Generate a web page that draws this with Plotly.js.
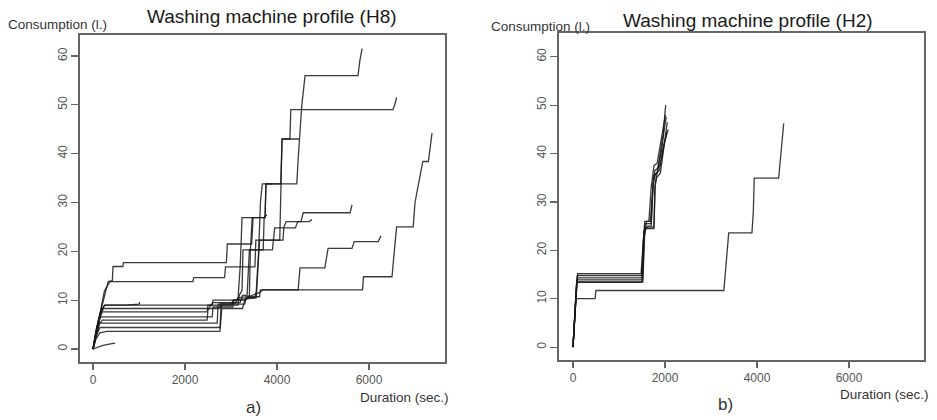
<!DOCTYPE html>
<html>
<head>
<meta charset="utf-8">
<script src="https://cdn.plot.ly/plotly-3.0.1.min.js"></script>
<style>html,body{margin:0;padding:0;background:#fff;}#chart{width:937px;height:420px;}</style>
</head>
<body>
<div id="chart"></div>
<script>
// ---- Data: [duration (sec.), consumption (l.)] per washing cycle ----
// House H8
const h8_cycle1 = [[0,0],[60,3],[120,6],[200,9],[280,12],[330,13.8],[420,14],[435,16.9],[650,16.9],[660,17.7],[2900,17.7],[2920,21.5],[3450,21.5],[3480,26.9],[3740,26.9],[3760,33.8],[4430,33.8],[4460,39],[4540,50],[4610,56],[5760,56],[5800,59],[5850,61.5]];
const h8_cycle2 = [[0,0],[80,4],[160,8],[250,12],[370,13.8],[2170,13.8],[2190,14.6],[2860,14.6],[2880,16.8],[3520,16.8],[3540,22.3],[4060,22.3],[4090,35],[4110,43],[4280,43],[4300,49],[6520,49],[6560,50],[6600,51.5]];
const h8_cycle3 = [[0,0],[60,2],[150,3.3],[300,3.6],[2760,3.6],[2780,6],[2800,8.3],[3250,8.3],[3300,10],[3400,11],[3420,20],[3460,26.9],[3740,26.9],[3760,33.8],[4080,33.8],[4110,43],[4480,43]];
const h8_cycle4 = [[0,0],[50,3],[120,6],[180,8],[260,9],[2590,9],[2610,10],[3300,10],[3400,10.7],[3620,10.7],[3640,12.1],[5860,12.1],[5880,14.8],[6500,14.8],[6540,19],[6600,25],[6960,25],[7000,30],[7100,35],[7170,38.4],[7290,38.4],[7320,41],[7370,44.2]];
const h8_cycle5 = [[0,0],[70,4],[150,7],[230,8.3],[2760,8.3],[2780,9.4],[3100,9.4],[3150,10.5],[3400,10.8],[3600,11.5],[3700,12.1],[4460,12.1],[4500,16.6],[5040,16.6],[5110,20.6],[5630,20.6],[5680,22],[6200,22],[6260,23.2]];
const h8_cycle6 = [[0,0],[60,3],[140,6],[200,7.6],[2480,7.6],[2500,9],[3000,9],[3050,10],[3550,10.5],[3580,16],[3620,22.3],[4130,22.3],[4150,25],[4200,26.1],[4520,26.1],[4570,27.9],[5590,27.9],[5630,29.5]];
const h8_cycle7 = [[0,0],[50,2],[130,5],[200,5.9],[2480,5.9],[2500,8],[2600,9.5],[3200,9.5],[3250,11],[3350,11],[3380,16],[3400,20.3],[3900,20.3],[3950,24.8],[4400,24.8],[4450,26.1],[4700,26.1],[4760,26.5]];
const h8_cycle8 = [[0,0],[100,0.4],[200,0.7],[350,1],[480,1.2]];
const h8_cycle9 = [[0,0],[80,4],[150,7],[250,9],[700,9],[1000,9.2],[1020,9.6]];
const h8_cycle10 = [[0,0],[60,2.5],[150,4.4],[2760,4.4],[2780,8],[2800,9],[3150,9],[3180,11],[3240,12],[3260,20.3],[3700,20.3],[3720,26.9],[3780,27.5]];
const h8_cycle11 = [[0,0],[70,3],[140,5.3],[2700,5.3],[2720,9.2],[3300,9.2],[3330,10.5],[3520,10.5],[3550,12],[3600,20],[3640,30],[3680,33.8],[3900,33.8]];
const h8_cycle12 = [[0,0],[80,4],[160,6.6],[2590,6.6],[2610,8.6],[3040,8.6],[3060,10],[3150,10],[3200,17],[3240,26.9],[3480,26.9]];

// House H2
const h2_cycle1 = [[0,0],[100,15.2],[1480,15.2],[1520,20],[1560,26],[1680,26],[1720,32],[1760,35.6],[1830,36],[1900,40],[1960,44],[2015,50]];
const h2_cycle2 = [[0,0],[95,14.8],[1490,14.8],[1530,22],[1570,25.5],[1700,25.5],[1740,33],[1780,36.5],[1850,37],[1930,41],[2000,46],[2030,47.5]];
const h2_cycle3 = [[0,0],[90,14.3],[1500,14.3],[1540,22],[1580,24.8],[1760,24.8],[1780,33],[1820,35],[1900,36],[1960,40],[2050,46.5]];
const h2_cycle4 = [[0,0],[85,13.9],[1510,13.9],[1550,23],[1600,26],[1650,26],[1700,33],[1760,37.5],[1830,38],[1900,42],[1980,47],[2010,48]];
const h2_cycle5 = [[0,0],[80,13.5],[1520,13.5],[1560,24],[1620,25],[1700,25],[1740,34],[1800,35.8],[1880,36.5],[1950,41],[2070,45]];
const h2_cycle6 = [[0,0],[80,13.4],[1500,13.4],[1540,24],[1600,24.5],[1760,24.5],[1790,34],[1850,37],[1900,37.8],[1980,42],[2040,44.5]];
const h2_cycle7 = [[0,0],[60,10],[480,10],[500,11.7],[3280,11.7],[3330,18],[3385,23.6],[3890,23.6],[3920,28],[3940,34.9],[4470,34.9],[4520,40],[4580,46.2]];

const h8_cycles = [h8_cycle1,h8_cycle2,h8_cycle3,h8_cycle4,h8_cycle5,h8_cycle6,h8_cycle7,h8_cycle8,h8_cycle9,h8_cycle10,h8_cycle11,h8_cycle12];
const h2_cycles = [h2_cycle1,h2_cycle2,h2_cycle3,h2_cycle4,h2_cycle5,h2_cycle6,h2_cycle7];

const xTicks = [0, 2000, 4000, 6000];
const yTicks = [0, 10, 20, 30, 40, 50, 60];

const titleA = "Washing machine profile (H8)";
const titleB = "Washing machine profile (H2)";
const yLabel = "Consumption (l.)";
const xLabel = "Duration (sec.)";

// ---- Build traces ----
const lineStyle = {color: 'rgba(25,25,25,0.85)', width: 1.3};
const traces = [];
h8_cycles.forEach(c => traces.push({x: c.map(p => p[0]), y: c.map(p => p[1]), mode: 'lines', line: lineStyle, xaxis: 'x', yaxis: 'y', hoverinfo: 'skip'}));
h2_cycles.forEach(c => traces.push({x: c.map(p => p[0]), y: c.map(p => p[1]), mode: 'lines', line: lineStyle, xaxis: 'x2', yaxis: 'y2', hoverinfo: 'skip'}));

const W = 937, H = 420;
const fx = v => v / W, fy = v => 1 - v / H;
const font = 'Liberation Sans, Arial, sans-serif';
const tickFont = {family: font, size: 12, color: '#555'};

function xAxis(domain, range) {
  return {domain: domain, range: range, tickvals: xTicks, ticktext: xTicks.map(String), ticks: 'outside', ticklen: 6, tickwidth: 1.2, tickcolor: '#666',
    showline: true, mirror: true, linecolor: '#666', linewidth: 1.7, showgrid: false, zeroline: false, tickfont: tickFont, fixedrange: true};
}
function yAxis(domain, range, anchor) {
  return {domain: domain, range: range, anchor: anchor, tickvals: yTicks, ticktext: yTicks.map(String), tickangle: -90, ticks: 'outside', ticklen: 7, tickwidth: 1.2, tickcolor: '#666',
    showline: true, mirror: true, linecolor: '#666', linewidth: 1.7, showgrid: false, zeroline: false, tickfont: tickFont, fixedrange: true};
}

const layout = {
  width: W, height: H,
  margin: {l: 0, r: 0, t: 0, b: 0},
  paper_bgcolor: '#fff', plot_bgcolor: '#fff',
  showlegend: false,
  xaxis: Object.assign(xAxis([fx(80), fx(445)], [-283, 7652]), {anchor: 'y'}),
  yaxis: yAxis([fy(362), fy(35)], [-2.66, 64.3], 'x'),
  xaxis2: Object.assign(xAxis([fx(559), fx(924)], [-304, 7630]), {anchor: 'y2'}),
  yaxis2: yAxis([fy(360), fy(33)], [-2.66, 64.9], 'x2'),
  annotations: [
    {text: titleA, xref: 'paper', yref: 'paper', x: fx(272), y: fy(17), xanchor: 'center', yanchor: 'middle', showarrow: false, font: {family: font, size: 19, color: '#1a1a1a'}},
    {text: titleB, xref: 'paper', yref: 'paper', x: fx(748), y: fy(20), xanchor: 'center', yanchor: 'middle', showarrow: false, font: {family: font, size: 19, color: '#1a1a1a'}},
    {text: yLabel, xref: 'paper', yref: 'paper', x: fx(6), y: fy(24), xanchor: 'left', yanchor: 'middle', showarrow: false, font: {family: font, size: 13.5, color: '#333'}},
    {text: yLabel, xref: 'paper', yref: 'paper', x: fx(489), y: fy(27), xanchor: 'left', yanchor: 'middle', showarrow: false, font: {family: font, size: 13.5, color: '#333'}},
    {text: xLabel, xref: 'paper', yref: 'paper', x: fx(451), y: fy(397), xanchor: 'right', yanchor: 'middle', showarrow: false, font: {family: font, size: 13.5, color: '#333'}},
    {text: xLabel, xref: 'paper', yref: 'paper', x: fx(931), y: fy(394), xanchor: 'right', yanchor: 'middle', showarrow: false, font: {family: font, size: 13.5, color: '#333'}},
    {text: 'a)', xref: 'paper', yref: 'paper', x: fx(253), y: fy(407), xanchor: 'center', yanchor: 'middle', showarrow: false, font: {family: font, size: 17, color: '#333'}},
    {text: 'b)', xref: 'paper', yref: 'paper', x: fx(725), y: fy(404), xanchor: 'center', yanchor: 'middle', showarrow: false, font: {family: font, size: 17, color: '#333'}}
  ]
};

Plotly.newPlot('chart', traces, layout, {displayModeBar: false, staticPlot: true});
</script>
</body>
</html>
